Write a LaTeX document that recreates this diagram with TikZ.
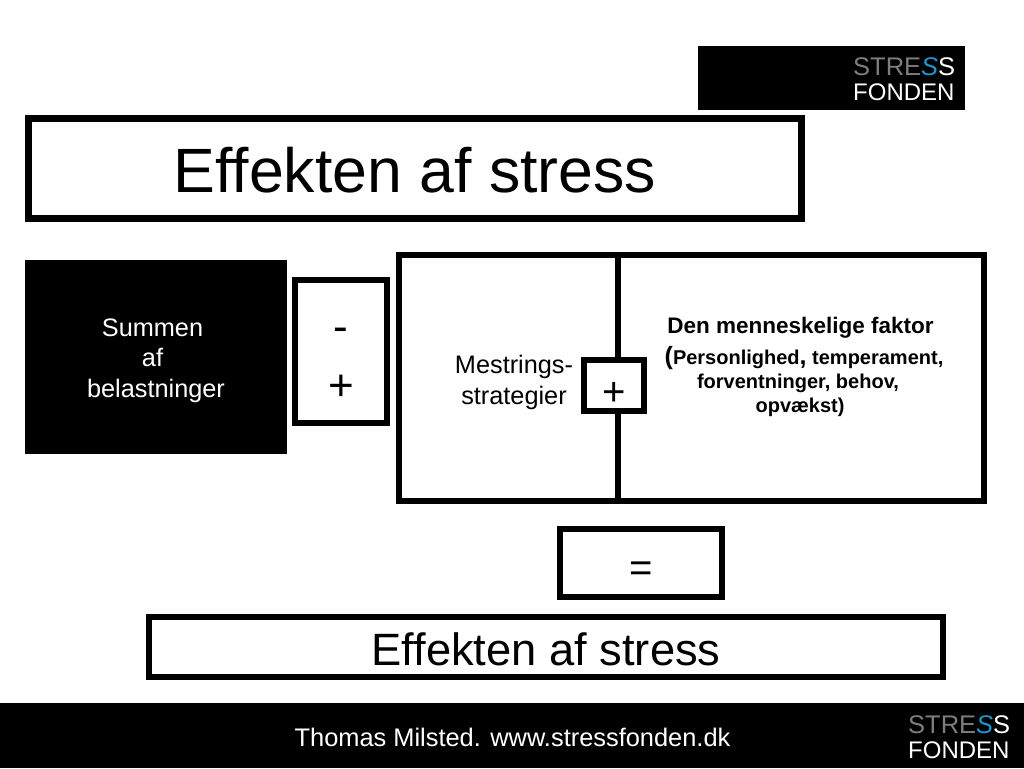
\documentclass[tikz,border=0pt]{standalone}
\usepackage{fontspec}
\setmainfont[Ligatures=NoCommon]{Liberation Sans}
\usepackage{tikz}
\definecolor{logogray}{RGB}{125,125,125}
\definecolor{logoblue}{RGB}{30,150,210}
\newcommand{\fsize}[1]{\fontsize{#1}{#1}\selectfont}
\newcommand{\stresslogo}[3]{
	\node[logotext,text=white] (#1a) at (#2,#3) {\fsize{25.5}\textcolor{logogray}{STRE}\textcolor{logoblue}{\textit{S}}S};
	\node[logotext,text=white] (#1b) at (#2,#3+25) {\fsize{24}FONDEN};
}
\tikzset{
	frame/.style={draw,line width=6pt,fill=white,inner sep=0pt},
	blackbox/.style={fill=black,inner sep=0pt},
	logotext/.style={anchor=base west,inner sep=0pt},
	label/.style={anchor=base,inner sep=0pt,text=black},
}

\begin{document}
\begin{tikzpicture}[x=1pt,y=-1pt]
	\useasboundingbox (0,0) rectangle (1024,768);

	% logo and footer
	\node[blackbox,minimum width=267pt,minimum height=64pt] (logo) at (831.5,78) {};
	\stresslogo{top}{853}{75}
	\node[blackbox,minimum width=1024pt,minimum height=65pt] (footer) at (512,735.5) {};
	\node[label,text=white] (footertext) at (512.5,746) {\fsize{25.4}Thomas Milsted. www.stressfonden.dk};
	\stresslogo{foot}{908}{733}

	% title
	\node[frame,line width=7pt,minimum width=773pt,minimum height=100pt] (title) at (415,168.5) {};
	\node[label] (titletext) at (415,192) {\fsize{62.6}Effekten af stress};

	% left side
	\node[blackbox,minimum width=262pt,minimum height=194pt] (load) at (156,357) {};
	\node[label,text=white] (loada) at (152.5,336) {\fsize{25.3}Summen};
	\node[label,text=white] (loadb) at (152.5,366.5) {\fsize{25.3}af};
	\node[label,text=white] (loadc) at (156,397) {\fsize{25.3}belastninger};
	\node[frame,minimum width=92pt,minimum height=143pt] (sign) at (341,351.5) {};
	\node[label] (minus) at (341,341) {\fsize{44}-};
	\node[label] (plus) at (341,400) {\fsize{44}+};

	% the two panes
	\node[frame,minimum width=219pt,minimum height=246pt] (coping) at (508.5,378) {};
	\node[frame,minimum width=366pt,minimum height=246pt] (human) at (801,378) {};
	\node[align=center,inner sep=0pt,font=\fontsize{25.3}{31}\selectfont] (copingtext) at (514,382.5) {Mestrings-\\strategier};
	\node[frame,minimum width=60pt,minimum height=51pt] (join) at (614,385.5) {};
	\node[label] (jointext) at (614,405) {\fsize{40}+};

	\node[label,font=\bfseries] (humana) at (800.5,333) {\fsize{22.5}Den menneskelige faktor};
	\node[label,font=\bfseries] (humanb) at (804,364) {\fsize{20}{\fsize{25}(}Personlighed{\fsize{25},} temperament,};
	\node[label,font=\bfseries] (humanc) at (798,388.5) {\fsize{20}forventninger, behov,};
	\node[label,font=\bfseries] (humand) at (800,412) {\fsize{20}opvækst)};

	% result
	\node[frame,minimum width=162pt,minimum height=68pt] (equal) at (641,563) {};
	\node[label] (equaltext) at (641,581) {\fsize{40}=};
	\node[frame,minimum width=794pt,minimum height=60pt] (result) at (546,647) {};
	\node[label] (resulttext) at (546,665) {\fsize{45.3}Effekten af stress};
\end{tikzpicture}
\end{document}
